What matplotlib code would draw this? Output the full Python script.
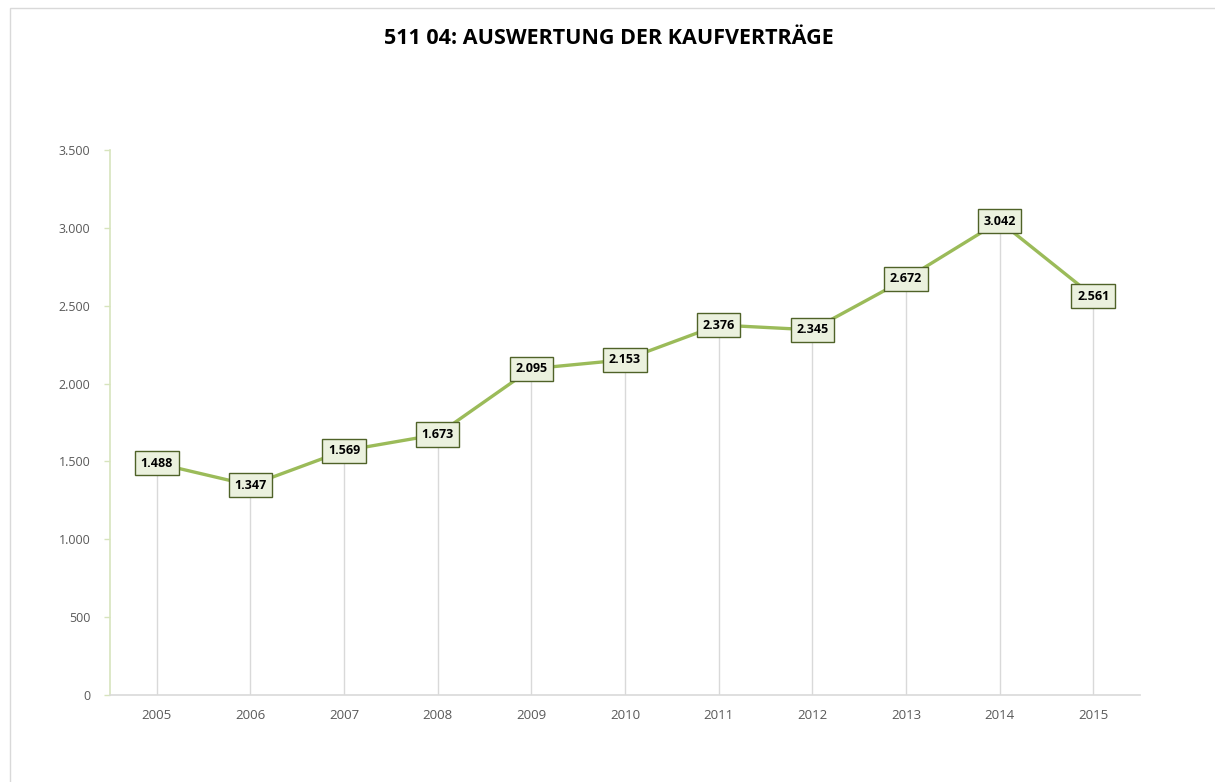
import matplotlib.pyplot as plt
from matplotlib.patches import Rectangle

years = ['2005', '2006', '2007', '2008', '2009', '2010', '2011', '2012', '2013', '2014', '2015']
vertraege = [1488, 1347, 1569, 1673, 2095, 2153, 2376, 2345, 2672, 3042, 2561]
y_ticks = [0, 500, 1000, 1500, 2000, 2500, 3000, 3500]

def de_fmt(v):
    return f'{v:,}'.replace(',', '.')

plt.rcParams['font.family'] = ['Open Sans', 'DejaVu Sans']

fig = plt.figure(figsize=(12.15, 7.82), dpi=100)
ax = fig.add_axes([110 / 1215, 1 - 695 / 782, 1030 / 1215, 545 / 782])

# chart border
fig.patches.append(Rectangle((10 / 1215, -0.05), 1.2, 1 - 8 / 782 + 0.05,
                             transform=fig.transFigure, fill=False,
                             edgecolor='#d9d9d9', linewidth=1))

x = list(range(len(years)))
ax.vlines(x, 0, vertraege, color='#d9d9d9', linewidth=1, zorder=1)
ax.plot(x, vertraege, color='#9bbb59', linewidth=2.4, zorder=2)

for xi, v in zip(x, vertraege):
    ax.text(xi, v, de_fmt(v), ha='center', va='center', fontsize=9,
            fontweight='bold', color='black', zorder=3,
            bbox=dict(boxstyle='square,pad=0.45', facecolor='#ebf1de',
                      edgecolor='#4f6228', linewidth=1))

ax.set_xlim(-0.5, len(years) - 0.5)
ax.set_ylim(0, 3500)
ax.set_xticks(x)
ax.set_xticklabels(years)
ax.set_yticks(y_ticks)
ax.set_yticklabels([de_fmt(t) for t in y_ticks])
ax.tick_params(axis='x', length=0, pad=10, labelsize=9.5, colors='#595959')
ax.tick_params(axis='y', length=4, width=1, color='#d7e4bd', pad=10,
               labelsize=9, labelcolor='#595959', direction='out')

for s in ['top', 'right']:
    ax.spines[s].set_visible(False)
ax.spines['left'].set_color('#d7e4bd')
ax.spines['left'].set_linewidth(1.2)
ax.spines['bottom'].set_color('#d9d9d9')
ax.spines['bottom'].set_linewidth(1.2)

fig.text(609 / 1215, 1 - 38 / 782, '511 04: AUSWERTUNG DER KAUFVERTRÄGE',
         ha='center', va='center', fontsize=15.5, fontweight='bold', color='black')

fig.savefig('out.png', dpi=100)
